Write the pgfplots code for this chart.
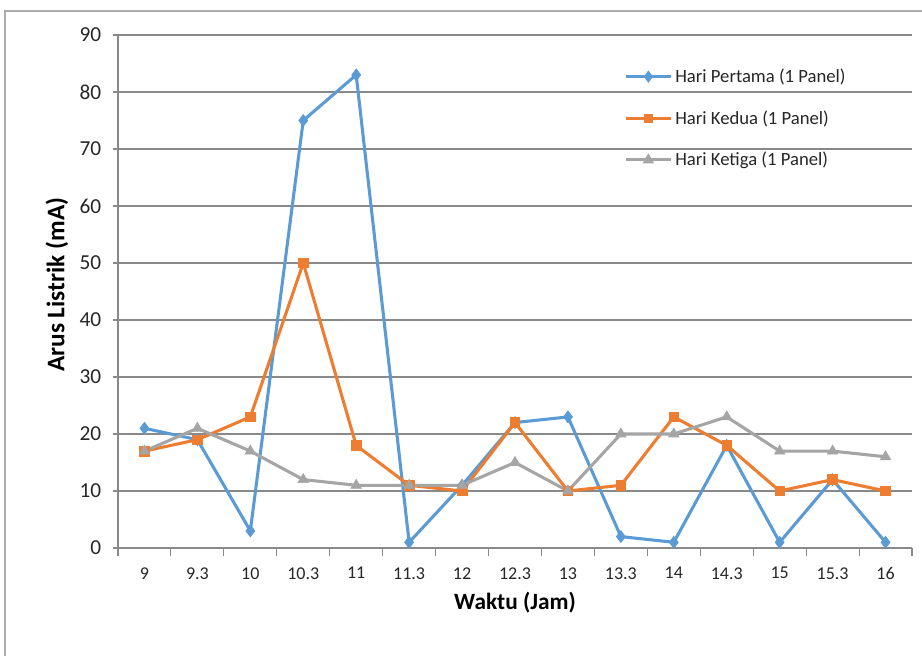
\documentclass[border=0pt]{standalone}
\usepackage{pgfplots}
\pgfplotsset{compat=1.18}
\usepackage{fontspec}
\setmainfont{Carlito}
\definecolor{cblue}{HTML}{5B9BD5}
\definecolor{corange}{HTML}{ED7D31}
\definecolor{cgray}{HTML}{A5A5A5}
\definecolor{gridc}{HTML}{898989}
\definecolor{txt}{HTML}{262626}
\begin{document}
\begin{tikzpicture}[x=1pt,y=1pt]
\useasboundingbox (-88.5pt,-81pt) rectangle (603pt,411pt);
\draw[gridc!70, line width=0.8pt] (-84.75pt,-85pt) -- (-84.75pt,402.75pt) -- (610pt,402.75pt);
\begin{axis}[
  at={(0pt,0pt)}, anchor=south west,
  scale only axis, width=595.5pt, height=384.75pt,
  xmin=-0.5, xmax=14.5, ymin=0, ymax=90,
  xtick={0,...,14},
  xticklabels={9,9.3,10,10.3,11,11.3,12,12.3,13,13.3,14,14.3,15,15.3,16},
  minor xtick={-0.5,0.5,...,14.5},
  ytick={0,10,...,90},
  axis x line*=bottom, axis y line*=left,
  axis line style={-, gridc, line width=0.8pt},
  ymajorgrids, major grid style={gridc, line width=0.8pt},
  tick align=outside,
  major x tick style={draw=none},
  minor x tick style={gridc, line width=0.8pt},
  minor tick length=6pt,
  major y tick style={gridc, line width=0.8pt},
  major tick length=4pt,
  /pgf/number format/assume math mode=true,
  ticklabel style={text=txt},
  xticklabel style={font=\fontsize{13.5}{15}\selectfont, yshift=-7pt},
  yticklabel style={font=\fontsize{16}{18}\selectfont, xshift=-5pt},
  label style={text=black},
  xlabel={Waktu (Jam)},
  ylabel={Arus Listrik (mA)},
  xlabel style={font=\bfseries\fontsize{17.5}{19}\selectfont, at={(axis description cs:0.5,-0.107)}, anchor=center},
  ylabel style={font=\bfseries\fontsize{19}{21}\selectfont, at={(axis description cs:-0.077,0.513)}, anchor=center},
  legend style={at={(axis description cs:0.632,0.945)}, anchor=north west,
    draw=none, fill=none, font=\fontsize{14}{16}\selectfont, text=txt,
    row sep=15.5pt},
  legend cell align=left,
  every axis plot/.append style={line width=2.3pt,
    legend image code/.code={\draw[mark repeat=2,mark phase=2,line width=2.3pt,mark options={scale=0.6}] plot coordinates {(0cm,0cm) (0.6cm,0cm) (1.2cm,0cm)};}},
]
\addplot[cblue, mark=diamond*, mark size=4.5pt, mark options={line width=0.5pt}] coordinates {
(0,21)(1,19)(2,3)(3,75)(4,83)(5,1)(6,11)(7,22)(8,23)(9,2)(10,1)(11,18)(12,1)(13,12)(14,1)};
\addlegendentry{Hari Pertama (1 Panel)}
\addplot[corange, mark=square*, mark size=3.6pt, mark options={line width=0.5pt}] coordinates {
(0,17)(1,19)(2,23)(3,50)(4,18)(5,11)(6,10)(7,22)(8,10)(9,11)(10,23)(11,18)(12,10)(13,12)(14,10)};
\addlegendentry{Hari Kedua (1 Panel)}
\addplot[cgray, mark=triangle*, mark size=4.5pt, mark options={line width=0.5pt}] coordinates {
(0,17)(1,21)(2,17)(3,12)(4,11)(5,11)(6,11)(7,15)(8,10)(9,20)(10,20)(11,23)(12,17)(13,17)(14,16)};
\addlegendentry{Hari Ketiga (1 Panel)}
\end{axis}
\end{tikzpicture}
\end{document}
